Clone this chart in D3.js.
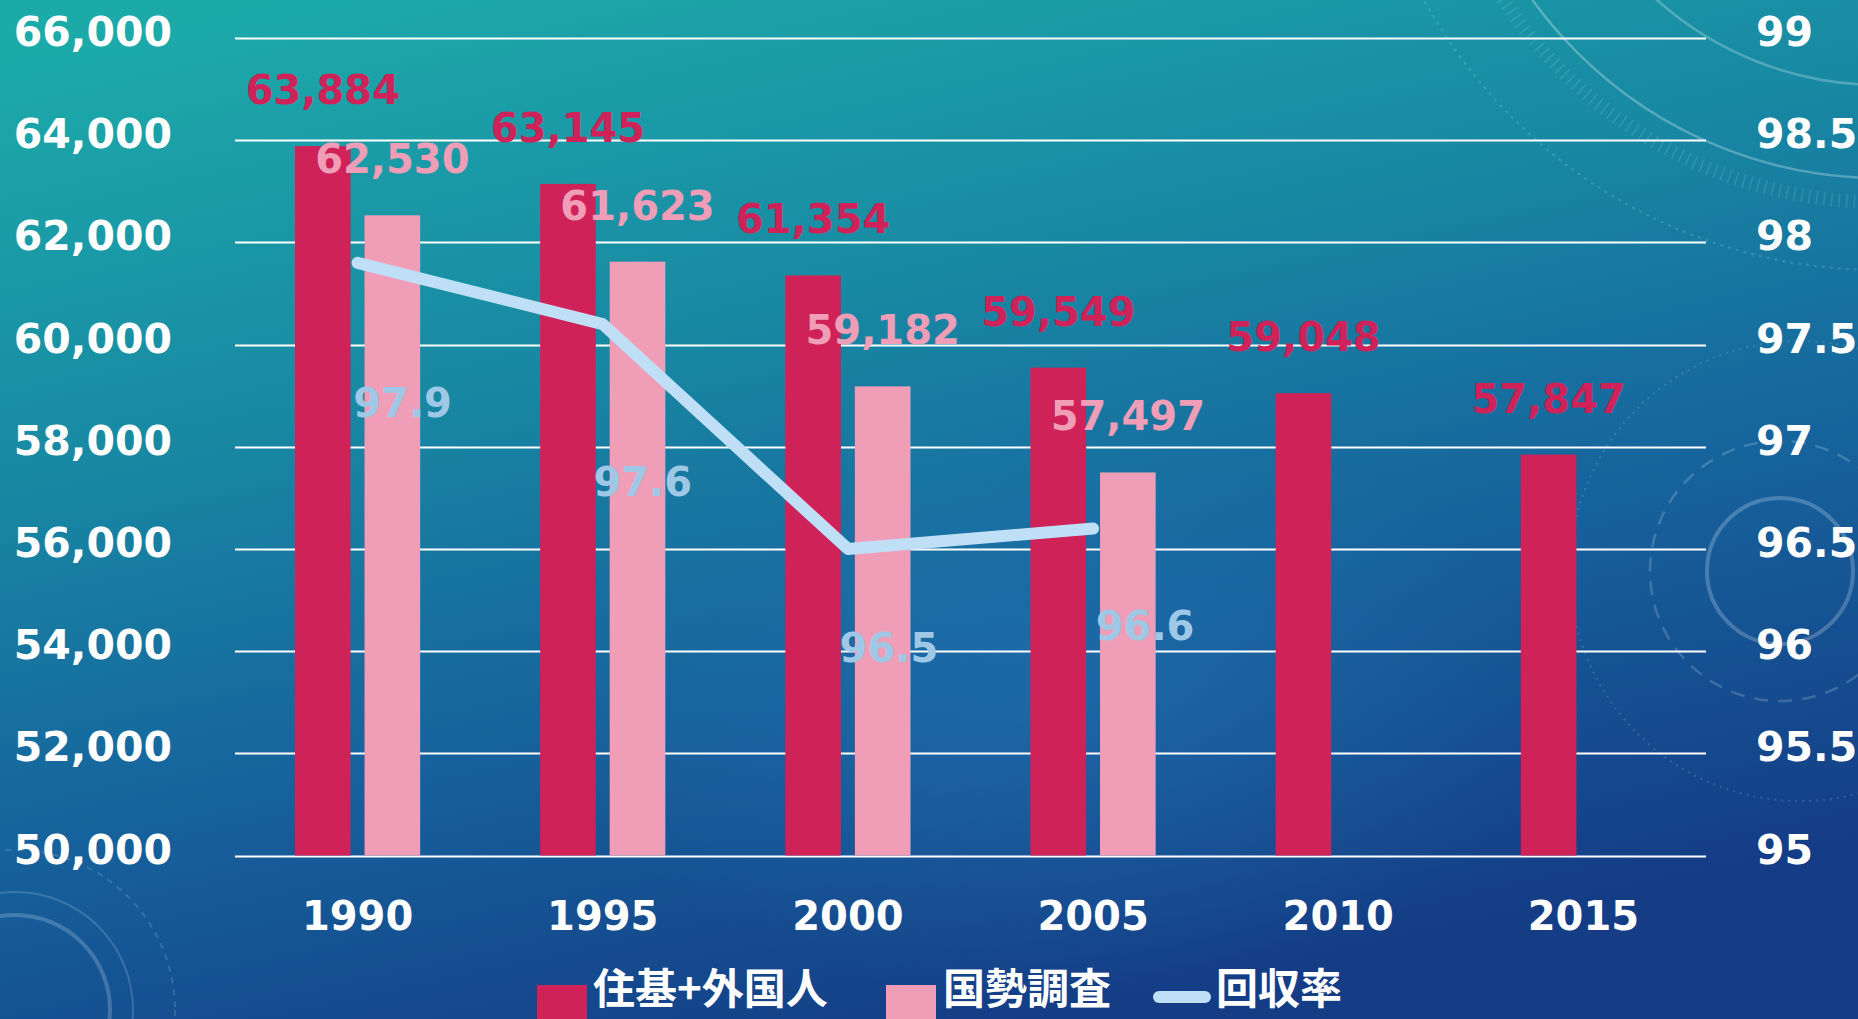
<!DOCTYPE html>
<html>
<head>
<meta charset="utf-8">
<script src="https://d3js.org/d3.v7.min.js"></script>
<style>
  html, body { margin: 0; padding: 0; overflow: hidden; background: #16508f; }
  #chart-area svg { display: block; }
</style>
</head>
<body>
<div id="chart-area"></div>
<script>
// Data
var years = ["1990", "1995", "2000", "2005", "2010", "2015"];
var juki = [63884, 63145, 61354, 59549, 59048, 57847];     // 住基+外国人
var kokusei = [62530, 61623, 59182, 57497, null, null];    // 国勢調査
var kaishu = [97.9, 97.6, 96.5, 96.6];                     // 回収率
var leftTicks = [50000, 52000, 54000, 56000, 58000, 60000, 62000, 64000, 66000];
var rightTicks = [95, 95.5, 96, 96.5, 97, 97.5, 98, 98.5, 99];
var seriesNames = ["住基+外国人", "国勢調査", "回収率"];

// hand placed labels of the rate line (dx, dy from the point)
var rateLabelNudge = [[45, 140], [40, 158], [41, 99], [52, 97]];

var W = 1858, H = 1019;
var plot = { left: 235, right: 1706, top: 38, bottom: 855.5 };
var darkPink = "#cf2259", lightPink = "#f09db7", lineBlue = "#bfdff7", lineLabel = "#9fc8e6";
var numFont = "'DejaVu Sans', Verdana, sans-serif";

var svg = d3.select("#chart-area")
    .append("svg")
    .attr("width", W)
    .attr("height", H);

// Background
var defs = svg.append("defs");
var bg = defs.append("linearGradient")
    .attr("id", "bg")
    .attr("x1", "0.15").attr("y1", "0")
    .attr("x2", "0.55").attr("y2", "1");
bg.append("stop").attr("offset", "0%").attr("stop-color", "#1caaa9");
bg.append("stop").attr("offset", "35%").attr("stop-color", "#1889a3");
bg.append("stop").attr("offset", "65%").attr("stop-color", "#16649d");
bg.append("stop").attr("offset", "100%").attr("stop-color", "#143d86");
var glow = defs.append("radialGradient").attr("id", "glow");
glow.append("stop").attr("offset", "0%").attr("stop-color", "#2a80c0").attr("stop-opacity", 0.35);
glow.append("stop").attr("offset", "100%").attr("stop-color", "#2a80c0").attr("stop-opacity", 0);

svg.append("rect").attr("width", W).attr("height", H).attr("fill", "url(#bg)");
svg.append("ellipse").attr("cx", 1050).attr("cy", 700).attr("rx", 500).attr("ry", 300).attr("fill", "url(#glow)");

// faint decorative rings
var deco = svg.append("g").attr("fill", "none").attr("stroke", "#ffffff");
deco.append("circle").attr("cx", 1880).attr("cy", -250).attr("r", 428).attr("stroke-opacity", 0.28).attr("stroke-width", 2.5);
deco.append("circle").attr("cx", 1880).attr("cy", -250).attr("r", 335).attr("stroke-opacity", 0.25).attr("stroke-width", 2.5);
deco.append("circle").attr("cx", 1880).attr("cy", -250).attr("r", 452).attr("stroke-opacity", 0.12)
    .attr("stroke-width", 14).attr("stroke-dasharray", "1.5 6");
deco.append("circle").attr("cx", 1880).attr("cy", -250).attr("r", 520).attr("stroke-opacity", 0.15)
    .attr("stroke-width", 2).attr("stroke-dasharray", "3 5");
deco.append("circle").attr("cx", 1780).attr("cy", 571).attr("r", 73).attr("stroke-opacity", 0.22).attr("stroke-width", 4);
deco.append("circle").attr("cx", 1780).attr("cy", 571).attr("r", 130).attr("stroke-opacity", 0.18)
    .attr("stroke-width", 2.5).attr("stroke-dasharray", "14 10");
deco.append("circle").attr("cx", 1800).attr("cy", 571).attr("r", 230).attr("stroke-opacity", 0.14)
    .attr("stroke-width", 2).attr("stroke-dasharray", "2 5");
deco.append("circle").attr("cx", 15).attr("cy", 1010).attr("r", 95).attr("stroke-opacity", 0.2).attr("stroke-width", 4);
deco.append("circle").attr("cx", 15).attr("cy", 1010).attr("r", 118).attr("stroke-opacity", 0.16).attr("stroke-width", 2);
deco.append("circle").attr("cx", 15).attr("cy", 1010).attr("r", 160).attr("stroke-opacity", 0.14)
    .attr("stroke-width", 2).attr("stroke-dasharray", "6 6");

// Scales
var x = d3.scaleBand()
    .domain(years)
    .range([plot.left, plot.right])
    .padding(0);
var xSub = d3.scaleBand()
    .domain([0, 1])
    .range([60, x.bandwidth() - 60])
    .paddingInner(0.2);
var yLeft = d3.scaleLinear()
    .domain([50000, 66000])
    .range([plot.bottom, plot.top]);
var yRight = d3.scaleLinear()
    .domain([95, 99])
    .range([plot.bottom, plot.top]);

// Gridlines
svg.append("g").selectAll("line")
    .data(leftTicks)
    .enter().append("line")
    .attr("x1", plot.left)
    .attr("x2", plot.right)
    .attr("y1", function(d){ return Math.round(yLeft(d)) + 0.5; })
    .attr("y2", function(d){ return Math.round(yLeft(d)) + 0.5; })
    .attr("stroke", "#ffffff")
    .attr("stroke-width", 2);

// Left axis labels
svg.append("g").selectAll("text")
    .data(leftTicks)
    .enter().append("text")
    .attr("x", 172)
    .attr("y", function(d){ return yLeft(d) - 6; })
    .attr("text-anchor", "end")
    .attr("dominant-baseline", "central")
    .attr("font-family", numFont)
    .attr("font-weight", "bold")
    .attr("font-size", 41)
    .attr("fill", "#ffffff")
    .text(d3.format(","));

// Right axis labels
svg.append("g").selectAll("text")
    .data(rightTicks)
    .enter().append("text")
    .attr("x", 1756)
    .attr("y", function(d){ return yRight(d) - 6; })
    .attr("text-anchor", "start")
    .attr("dominant-baseline", "central")
    .attr("font-family", numFont)
    .attr("font-weight", "bold")
    .attr("font-size", 41)
    .attr("fill", "#ffffff")
    .text(function(d){ return d; });

// X axis labels
svg.append("g").selectAll("text")
    .data(years)
    .enter().append("text")
    .attr("x", function(d){ return x(d) + x.bandwidth() / 2; })
    .attr("y", 916)
    .attr("text-anchor", "middle")
    .attr("dominant-baseline", "central")
    .attr("font-family", numFont)
    .attr("font-weight", "bold")
    .attr("font-size", 40)
    .attr("fill", "#ffffff")
    .text(function(d){ return d; });

// Bars
var barSeries = [
    { values: juki, color: darkPink, idx: 0 },
    { values: kokusei, color: lightPink, idx: 1 }
];
barSeries.forEach(function(s){
    var pts = years.map(function(yr, i){ return { year: yr, v: s.values[i] }; })
        .filter(function(d){ return d.v != null; });
    var g = svg.append("g");
    g.selectAll("rect")
        .data(pts)
        .enter().append("rect")
        .attr("x", function(d){ return x(d.year) + xSub(s.idx); })
        .attr("y", function(d){ return yLeft(d.v); })
        .attr("width", xSub.bandwidth())
        .attr("height", function(d){ return yLeft(50000) - yLeft(d.v); })
        .attr("fill", s.color);
    s.g = g;
    s.pts = pts;
});

// Rate line
var rateLine = d3.line()
    .x(function(d, i){ return x(years[i]) + x.bandwidth() / 2; })
    .y(function(d){ return yRight(d); });
svg.append("path")
    .datum(kaishu)
    .attr("d", rateLine)
    .attr("fill", "none")
    .attr("stroke", lineBlue)
    .attr("stroke-width", 12)
    .attr("stroke-linecap", "round")
    .attr("stroke-linejoin", "round");

// Bar value labels
barSeries.forEach(function(s){
    s.g.selectAll("text")
        .data(s.pts)
        .enter().append("text")
        .attr("x", function(d){ return x(d.year) + xSub(s.idx) + xSub.bandwidth() / 2; })
        .attr("y", function(d){ return yLeft(d.v) - 56; })
        .attr("text-anchor", "middle")
        .attr("dominant-baseline", "central")
        .attr("font-family", numFont)
        .attr("font-weight", "bold")
        .attr("font-size", 40)
        .attr("fill", s.color)
        .text(function(d){ return d3.format(",")(d.v); });
});

// Rate labels
svg.append("g").selectAll("text")
    .data(kaishu)
    .enter().append("text")
    .attr("x", function(d, i){ return x(years[i]) + x.bandwidth() / 2 + rateLabelNudge[i][0]; })
    .attr("y", function(d, i){ return yRight(d) + rateLabelNudge[i][1]; })
    .attr("text-anchor", "middle")
    .attr("dominant-baseline", "central")
    .attr("font-family", numFont)
    .attr("font-weight", "bold")
    .attr("font-size", 40)
    .attr("fill", lineLabel)
    .text(function(d){ return d; });

// Legend (kept just inside the bottom edge)
var legendBase = 1004;
var legend = svg.append("g")
    .attr("font-family", "'Noto Sans CJK JP', sans-serif")
    .attr("font-weight", "bold")
    .attr("font-size", 42)
    .attr("fill", "#ffffff");
legend.append("rect").attr("x", 537).attr("y", legendBase - 19).attr("width", 50).attr("height", 50).attr("fill", darkPink);
legend.append("text").attr("x", 593).attr("y", legendBase).text(seriesNames[0]);
legend.append("rect").attr("x", 886).attr("y", legendBase - 19).attr("width", 50).attr("height", 50).attr("fill", lightPink);
legend.append("text").attr("x", 943).attr("y", legendBase).text(seriesNames[1]);
legend.append("line")
    .attr("x1", 1159).attr("x2", 1205)
    .attr("y1", legendBase - 7).attr("y2", legendBase - 7)
    .attr("stroke", lineBlue)
    .attr("stroke-width", 12)
    .attr("stroke-linecap", "round");
legend.append("text").attr("x", 1216).attr("y", legendBase).text(seriesNames[2]);
</script>
</body>
</html>
